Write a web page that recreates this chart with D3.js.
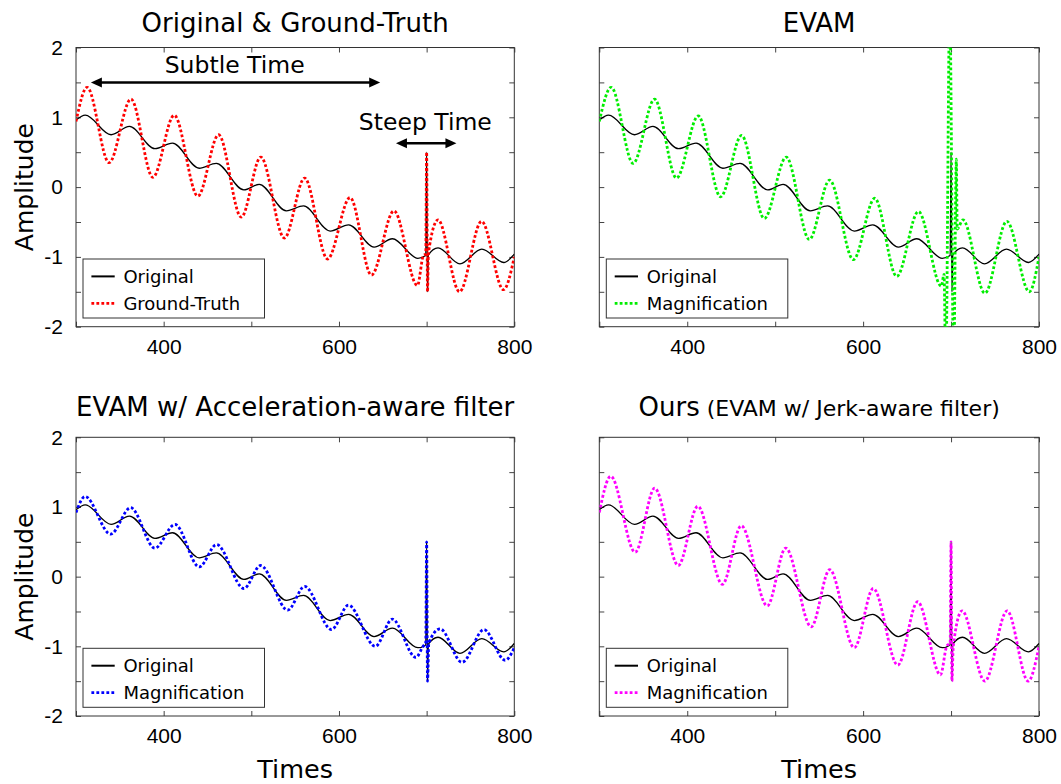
<!DOCTYPE html>
<html><head><meta charset="utf-8">
<script src="https://cdn.jsdelivr.net/npm/d3@7"></script>
<style>body{margin:0;background:#fff;} svg{display:block;}</style>
</head><body>
<svg id="c" width="1061" height="784"></svg>
<script>
// ---------- data ----------
const xTicks = [300, 400, 500, 600, 700, 800];
const xTickLabels = [400, 600, 800];
const yTicks = [-2, -1.5, -1, -0.5, 0, 0.5, 1, 1.5, 2];
const yTickLabels = [-2, -1, 0, 1, 2];

// [time, amplitude] key points (extrema and spike points)
const original = [[300,0.96],[310.5,1.03],[340,0.75],[361,0.87],[390,0.55],[410,0.63],[440.5,0.27],[460,0.34],[491.5,-0.04],[509,0.04],[540,-0.34],[559.5,-0.27],[590,-0.63],[611,-0.54],[640,-0.86],[661,-0.74],[690,-1.02],[699,-0.98],[700,0.5],[701,-1.5],[702,-0.97],[713,-0.87],[738,-1.10],[763,-0.89],[788,-1.08],[800,-0.96]];
const groundTruth = [[300,0.94],[312.7,1.43],[337.7,0.35],[362.7,1.26],[387.7,0.14],[412,1.03],[439,-0.13],[462.7,0.75],[488.5,-0.43],[510.8,0.43],[537.7,-0.73],[560.8,0.13],[586.9,-1.03],[612.7,-0.15],[637,-1.26],[662.7,-0.34],[689.5,-1.41],[696,-0.99],[699,-0.95],[700,0.5],[701,-1.5],[702,-0.95],[713,-0.47],[737.5,-1.50],[762.7,-0.49],[787.7,-1.47],[800,-1.0]];
const evamMag = [[300,0.94],[313.5,1.43],[338.5,0.34],[362.8,1.26],[387.8,0.13],[412.5,1.02],[437.9,-0.14],[461.8,0.74],[487.6,-0.45],[512.6,0.43],[538.8,-0.75],[561.9,0.10],[588.9,-1.04],[613.2,-0.16],[638.2,-1.28],[662.9,-0.35],[689,-1.42],[692,-1.25],[694,-2.6],[698.5,2.6],[703,-2.6],[706,0.4],[707,-0.6],[713.5,-0.47],[738.5,-1.52],[763.4,-0.49],[789,-1.50],[800,-1.0]];
const accelMag = [[300,0.92],[310.3,1.15],[339.5,0.61],[362.3,0.99],[390,0.41],[412.9,0.75],[440.6,0.14],[460.4,0.46],[491.6,-0.17],[510.6,0.16],[541.5,-0.48],[560.8,-0.14],[591.5,-0.76],[610.8,-0.41],[641.5,-1.0],[660.8,-0.61],[687.7,-1.16],[696,-1.0],[699,-0.95],[700,0.5],[701,-1.5],[702.5,-0.95],[715.4,-0.75],[740.4,-1.23],[765.4,-0.76],[789.6,-1.20],[800,-1.02]];
const jerkMag = [[300,0.92],[313,1.44],[340.8,0.35],[363,1.27],[389.8,0.16],[412,1.01],[440,-0.11],[461.4,0.73],[491,-0.42],[512,0.41],[541,-0.72],[562,0.10],[590,-1.02],[611.6,-0.17],[639.4,-1.27],[662,-0.36],[688,-1.41],[695,-1.0],[699,-0.95],[700,0.5],[701,-1.5],[702.5,-1.0],[712.5,-0.49],[738.4,-1.50],[763.8,-0.49],[787.7,-1.50],[800,-1.0]];

const panelTitles = ["Original & Ground-Truth", "EVAM", "EVAM w/ Acceleration-aware filter", "Ours"];
const titleSuffix = ["", "", "", " (EVAM w/ Jerk-aware filter)"];
const legendLabels = [["Original","Ground-Truth"],["Original","Magnification"],["Original","Magnification"],["Original","Magnification"]];
const annotationTexts = ["Subtle Time", "Steep Time"];
const annotationPos = [[481, 1.63], [698.5, 0.82]];       // [time, amplitude] of text
const arrowSpans = [[317, 647, 1.5], [665, 734, 0.63]];    // [t1, t2, amplitude]

// ---------- layout / style ----------
const series = [groundTruth, evamMag, accelMag, jerkMag];
const colors = ["#ff0000", "#00ee00", "#0000ff", "#ff00ff"];
const boxes = [
  {l:76, r:514.3, t:47.5, b:326.7, titleY:31.5, yLab:true,  xTitle:false},
  {l:599.3, r:1039, t:47.5, b:326.7, titleY:31.5, yLab:false, xTitle:false},
  {l:76, r:514.3, t:437.3, b:716, titleY:416, yLab:true,  xTitle:true},
  {l:599.3, r:1039, t:437.3, b:716, titleY:416, yLab:false, xTitle:true}
];
const TITLE_FONT = "'DejaVu Sans', Verdana, sans-serif";
const TICK_FONT = "'Liberation Sans', Arial, sans-serif";

const svg = d3.select("#c");
const defs = svg.append("defs");

boxes.forEach((B, i) => {
  const x = d3.scaleLinear().domain([300, 800]).range([B.l, B.r]);
  const y = d3.scaleLinear().domain([-2, 2]).range([B.b, B.t]);
  const g = svg.append("g");

  defs.append("clipPath").attr("id", "clip" + i)
    .append("rect").attr("x", B.l).attr("y", B.t).attr("width", B.r - B.l).attr("height", B.b - B.t);

  // axes (inward ticks on all sides)
  const fmtX = d => xTickLabels.includes(d) ? String(d) : "";
  const fmtY = d => (B.yLab && yTickLabels.includes(d)) ? String(d) : "";
  const ax = [
    g.append("g").attr("transform", `translate(0,${B.b})`).call(d3.axisBottom(x).tickValues(xTicks).tickSize(-5).tickPadding(12).tickFormat(fmtX)),
    g.append("g").attr("transform", `translate(0,${B.t})`).call(d3.axisTop(x).tickValues(xTicks).tickSize(-5).tickFormat("")),
    g.append("g").attr("transform", `translate(${B.l},0)`).call(d3.axisLeft(y).tickValues(yTicks).tickSize(-5).tickPadding(13).tickFormat(fmtY)),
    g.append("g").attr("transform", `translate(${B.r},0)`).call(d3.axisRight(y).tickValues(yTicks).tickSize(-5).tickFormat(""))
  ];
  ax.forEach(a => {
    a.select(".domain").remove();
    a.selectAll("line").attr("stroke", "#444").attr("stroke-width", 1);
    a.selectAll("text").attr("font-family", TICK_FONT).attr("font-size", 21).attr("fill", "#000");
  });

  // frame
  g.append("rect").attr("x", B.l).attr("y", B.t).attr("width", B.r - B.l).attr("height", B.b - B.t)
    .attr("fill", "none").attr("stroke", "#333").attr("stroke-width", 1);

  const line = d3.line().x(d => x(d[0])).y(d => y(d[1])).curve(d3.curveMonotoneX);
  const plot = g.append("g").attr("clip-path", `url(#clip${i})`);
  plot.append("path").datum(original).attr("d", line)
    .attr("fill", "none").attr("stroke", "#000").attr("stroke-width", 1.3);
  plot.append("path").datum(series[i]).attr("d", line)
    .attr("fill", "none").attr("stroke", colors[i]).attr("stroke-width", 2.8)
    .attr("stroke-dasharray", "2.8 2.2");

  // title
  const tt = g.append("text").attr("x", (B.l + B.r) / 2).attr("y", B.titleY)
    .attr("text-anchor", "middle").attr("font-family", TITLE_FONT).attr("font-size", 26).attr("fill", "#000");
  tt.append("tspan").text(panelTitles[i]);
  if (titleSuffix[i]) tt.append("tspan").attr("font-size", 22).text(titleSuffix[i]);

  // axis titles
  if (B.yLab) {
    g.append("text").attr("transform", `translate(33,${(B.t + B.b) / 2}) rotate(-90)`)
      .attr("text-anchor", "middle").attr("font-family", TITLE_FONT).attr("font-size", 25).text("Amplitude");
  }
  if (B.xTitle) {
    g.append("text").attr("x", (B.l + B.r) / 2).attr("y", 778)
      .attr("text-anchor", "middle").attr("font-family", TITLE_FONT).attr("font-size", 25.5).text("Times");
  }

  // legend
  const lx = B.l + 7, ly = B.b - 8.7 - 59;
  const lg = g.append("g");
  lg.append("rect").attr("x", lx).attr("y", ly).attr("width", 181.5).attr("height", 59)
    .attr("fill", "#fff").attr("stroke", "#333").attr("stroke-width", 1);
  legendLabels[i].forEach((lab, k) => {
    const ry = ly + 17.4 + k * 27;
    const ln = lg.append("line").attr("x1", lx + 8.4).attr("x2", lx + 31.7).attr("y1", ry).attr("y2", ry);
    if (k === 0) ln.attr("stroke", "#000").attr("stroke-width", 2);
    else ln.attr("stroke", colors[i]).attr("stroke-width", 2.8).attr("stroke-dasharray", "2.8 2.2");
    lg.append("text").attr("x", lx + 40.4).attr("y", ry + 6.5)
      .attr("font-family", TITLE_FONT).attr("font-size", 18).attr("fill", "#000").text(lab);
  });

  // annotations (first panel only)
  if (i === 0) {
    annotationTexts.forEach((txt, k) => {
      g.append("text").attr("x", x(annotationPos[k][0])).attr("y", y(annotationPos[k][1]))
        .attr("text-anchor", "middle").attr("font-family", TITLE_FONT).attr("font-size", 23.5).text(txt);
    });
    arrowSpans.forEach(s => {
      const x1 = x(s[0]), x2 = x(s[1]), yy = y(s[2]);
      const hl = 11, hw = 5;
      g.append("line").attr("x1", x1 + hl - 1).attr("x2", x2 - hl + 1).attr("y1", yy).attr("y2", yy)
        .attr("stroke", "#000").attr("stroke-width", 2.5);
      g.append("path").attr("d", `M${x1},${yy}L${x1 + hl},${yy - hw}L${x1 + hl},${yy + hw}Z`).attr("fill", "#000");
      g.append("path").attr("d", `M${x2},${yy}L${x2 - hl},${yy - hw}L${x2 - hl},${yy + hw}Z`).attr("fill", "#000");
    });
  }
});
</script>
</body></html>
